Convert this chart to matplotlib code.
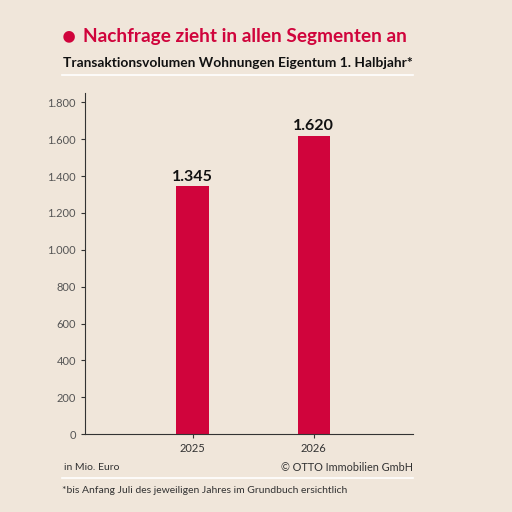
import matplotlib
matplotlib.use("Agg")
import matplotlib.pyplot as plt
from matplotlib.lines import Line2D

years = ["2025", "2026"]
values = [1345, 1620]
labels = ["1.345", "1.620"]
yticks = [0, 200, 400, 600, 800, 1000, 1200, 1400, 1600, 1800]
ytick_labels = ["0", "200", "400", "600", "800", "1.000", "1.200", "1.400", "1.600", "1.800"]

bg = "#F0E6DA"
red = "#D0043C"
plt.rcParams['font.family'] = ['Lato', 'DejaVu Sans']

fig = plt.figure(figsize=(5.12, 5.12), dpi=100, facecolor=bg)
ax = fig.add_axes([0.166, 0.152, 0.641, 0.666], facecolor=bg)
x = list(range(len(years)))
ax.bar(x, values, width=0.27, color=red)
for xi, v, l in zip(x, values, labels):
    ax.text(xi, v + 15, l, ha="center", va="bottom", fontsize=11.5, fontweight="bold", color="#111111")
ax.set_xlim(-0.89, 1.82)
ax.set_ylim(0, 1850)
ax.set_xticks(x)
ax.set_xticklabels(years, fontsize=8, color="#333333")
ax.set_yticks(yticks)
ax.set_yticklabels(ytick_labels, fontsize=8, color="#555555")
for s in ["top", "right"]:
    ax.spines[s].set_visible(False)
for s in ["left", "bottom"]:
    ax.spines[s].set_color("#333333")
    ax.spines[s].set_linewidth(0.8)
ax.tick_params(axis="y", length=3, color="#333333")
ax.tick_params(axis="x", length=3, color="#333333")

fig.text(0.121, 0.928, "●", color=red, fontsize=17, va="center", ha="left")
fig.text(0.163, 0.928, "Nachfrage zieht in allen Segmenten an", color=red, fontsize=13.7, fontweight="bold", va="center")
fig.text(0.123, 0.876, "Transaktionsvolumen Wohnungen Eigentum 1. Halbjahr*", color="#111111", fontsize=9.9, fontweight="bold", va="center")
fig.add_artist(Line2D([0.121, 0.807], [0.853, 0.853], color="white", lw=1.2))
fig.text(0.125, 0.086, "in Mio. Euro", fontsize=7.5, color="#333333", va="center")
fig.text(0.807, 0.086, "© OTTO Immobilien GmbH", fontsize=7.8, color="#333333", va="center", ha="right")
fig.add_artist(Line2D([0.121, 0.807], [0.066, 0.066], color="white", lw=1.2))
fig.text(0.121, 0.042, "*bis Anfang Juli des jeweiligen Jahres im Grundbuch ersichtlich", fontsize=7.5, color="#333333", va="center")
fig.savefig("out.png", dpi=100, facecolor=bg)
